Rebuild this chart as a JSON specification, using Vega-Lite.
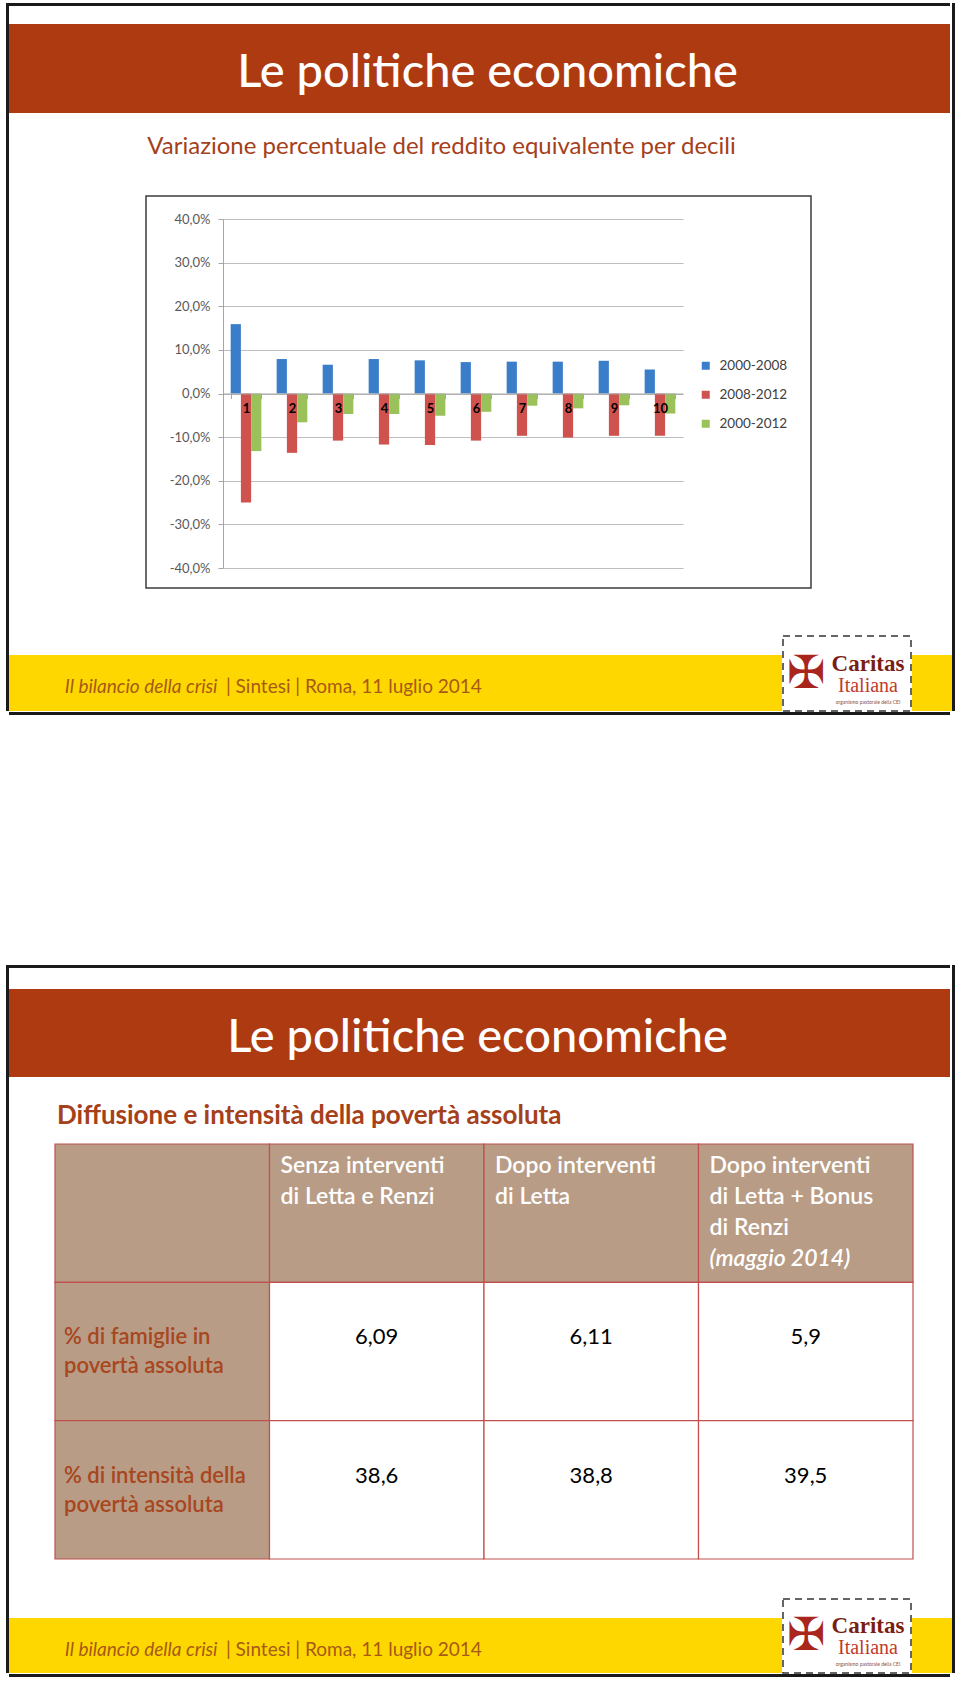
{
  "$schema": "https://vega.github.io/schema/vega-lite/v6.json",
  "background": "#ffffff",
  "padding": {"left": 6, "top": 3, "right": 0, "bottom": 0},
  "data": {"values": [{}]},
  "spacing": 0,
  "resolve": {"scale": {"color": "independent"}, "legend": {"color": "independent"}},
  "vconcat": [
    {
      "spacing": 0,
      "resolve": {"scale": {"color": "independent"}, "legend": {"color": "independent"}},
      "hconcat": [
        {"width": 3, "height": 708, "view": {"fill": "#1a1a1a"}, "mark": {"type": "text", "fontSize": 0}, "encoding": {"text": {"value": ""}}},
        {
          "spacing": 0,
          "resolve": {"scale": {"color": "independent"}, "legend": {"color": "independent"}},
          "vconcat": [
            {"width": 941, "height": 3, "view": {"fill": "#1a1a1a"}, "mark": {"type": "text", "fontSize": 0}, "encoding": {"text": {"value": ""}}},
            {"width": 941, "height": 18, "mark": {"type": "text", "fontSize": 0}, "encoding": {"text": {"value": ""}}},
            {"width": 941, "height": 89, "view": {"fill": "#AE3A12"}, "mark": {"type": "text", "text": "Le politiche economiche", "fontSize": 47, "fontWeight": 500, "color": "#ffffff", "dx": 8, "dy": 4}},
            {
              "spacing": 0,
              "hconcat": [
                {"width": 138, "height": 82, "mark": {"type": "text", "fontSize": 0}, "encoding": {"text": {"value": ""}}},
                {"width": 587, "height": 82, "mark": {"type": "text", "text": "Variazione percentuale del reddito equivalente per decili", "fontSize": 24, "color": "#A5401A", "dy": -7}},
                {"width": 216, "height": 82, "mark": {"type": "text", "fontSize": 0}, "encoding": {"text": {"value": ""}}}
              ]
            },
            {
              "spacing": 0,
              "resolve": {"scale": {"color": "independent"}, "legend": {"color": "independent"}},
              "hconcat": [
                {"width": 136, "height": 392, "mark": {"type": "text", "fontSize": 0}, "encoding": {"text": {"value": ""}}},
                {
                  "width": 665,
                  "height": 392,
                  "view": {"fill": "#ffffff", "stroke": "#3c3c3c", "strokeWidth": 1.5},
                  "data": {"values": [
                    {"decile": "1", "periodo": "2000-2008", "variazione": 0.159},
                    {"decile": "1", "periodo": "2008-2012", "variazione": -0.25},
                    {"decile": "1", "periodo": "2000-2012", "variazione": -0.132},
                    {"decile": "2", "periodo": "2000-2008", "variazione": 0.079},
                    {"decile": "2", "periodo": "2008-2012", "variazione": -0.136},
                    {"decile": "2", "periodo": "2000-2012", "variazione": -0.066},
                    {"decile": "3", "periodo": "2000-2008", "variazione": 0.066},
                    {"decile": "3", "periodo": "2008-2012", "variazione": -0.108},
                    {"decile": "3", "periodo": "2000-2012", "variazione": -0.047},
                    {"decile": "4", "periodo": "2000-2008", "variazione": 0.079},
                    {"decile": "4", "periodo": "2008-2012", "variazione": -0.117},
                    {"decile": "4", "periodo": "2000-2012", "variazione": -0.047},
                    {"decile": "5", "periodo": "2000-2008", "variazione": 0.076},
                    {"decile": "5", "periodo": "2008-2012", "variazione": -0.118},
                    {"decile": "5", "periodo": "2000-2012", "variazione": -0.051},
                    {"decile": "6", "periodo": "2000-2008", "variazione": 0.072},
                    {"decile": "6", "periodo": "2008-2012", "variazione": -0.108},
                    {"decile": "6", "periodo": "2000-2012", "variazione": -0.042},
                    {"decile": "7", "periodo": "2000-2008", "variazione": 0.073},
                    {"decile": "7", "periodo": "2008-2012", "variazione": -0.097},
                    {"decile": "7", "periodo": "2000-2012", "variazione": -0.028},
                    {"decile": "8", "periodo": "2000-2008", "variazione": 0.073},
                    {"decile": "8", "periodo": "2008-2012", "variazione": -0.101},
                    {"decile": "8", "periodo": "2000-2012", "variazione": -0.034},
                    {"decile": "9", "periodo": "2000-2008", "variazione": 0.075},
                    {"decile": "9", "periodo": "2008-2012", "variazione": -0.097},
                    {"decile": "9", "periodo": "2000-2012", "variazione": -0.027},
                    {"decile": "10", "periodo": "2000-2008", "variazione": 0.055},
                    {"decile": "10", "periodo": "2008-2012", "variazione": -0.097},
                    {"decile": "10", "periodo": "2000-2012", "variazione": -0.046}
                  ]},
                  "mark": {"type": "bar"},
                  "encoding": {
                    "x": {
                      "field": "decile", "type": "ordinal",
                      "sort": ["1", "2", "3", "4", "5", "6", "7", "8", "9", "10"],
                      "scale": {"range": [77, 537], "paddingInner": 0.333, "paddingOuter": 0.1667},
                      "axis": {"title": null, "orient": "bottom", "offset": -194.5, "zindex": 1, "labelAngle": 0, "labelFontWeight": "bold", "labelColor": "#000000", "labelFontSize": 13, "labelPadding": 4, "tickBand": "extent", "tickSize": 5, "tickColor": "#A6A6A6", "domainColor": "#A6A6A6", "grid": false}
                    },
                    "xOffset": {"field": "periodo", "type": "nominal", "sort": ["2000-2008", "2008-2012", "2000-2012"], "scale": {"paddingInner": 0, "paddingOuter": 0}},
                    "y": {
                      "field": "variazione", "type": "quantitative",
                      "scale": {"domain": [-0.4, 0.4], "range": [372, 23], "nice": false, "zero": false},
                      "axis": {"title": null, "offset": -77, "zindex": 0, "values": [-0.4, -0.3, -0.2, -0.1, 0, 0.1, 0.2, 0.3, 0.4], "format": ".1%", "labelFontSize": 13, "labelColor": "#595959", "labelPadding": 8, "tickSize": 5, "tickColor": "#A6A6A6", "domainColor": "#A6A6A6", "gridColor": "#BDBDBD", "grid": true}
                    },
                    "color": {
                      "field": "periodo", "type": "nominal",
                      "sort": ["2000-2008", "2008-2012", "2000-2012"],
                      "scale": {"range": ["#3A7DC8", "#CF524E", "#9BC25A"]},
                      "legend": {"title": null, "orient": "none", "legendX": 553, "legendY": 163, "padding": 0, "symbolType": "square", "symbolSize": 64, "symbolStrokeWidth": 0, "labelFontSize": 13.5, "labelColor": "#404040", "rowPadding": 14, "labelOffset": 7}
                    }
                  }
                },
                {"width": 140, "height": 392, "mark": {"type": "text", "fontSize": 0}, "encoding": {"text": {"value": ""}}}
              ]
            },
            {"width": 941, "height": 46, "mark": {"type": "text", "fontSize": 0}, "encoding": {"text": {"value": ""}}},
            {
              "spacing": 0,
              "hconcat": [
                {
                  "spacing": 0,
                  "vconcat": [
                    {"width": 773, "height": 19, "mark": {"type": "text", "fontSize": 0}, "encoding": {"text": {"value": ""}}},
                    {
                      "spacing": 0,
                      "hconcat": [
                        {"width": 213, "height": 56, "view": {"fill": "#FED700"}, "mark": {"type": "text", "text": "Il bilancio della crisi", "fontSize": 19, "fontStyle": "italic", "color": "#A65A17", "align": "right", "dx": 102, "dy": 4}},
                        {"width": 560, "height": 56, "view": {"fill": "#FED700"}, "mark": {"type": "text", "text": "| Sintesi | Roma, 11 luglio 2014", "fontSize": 19, "color": "#A65A17", "align": "left", "dx": -276, "dy": 4}}
                      ]
                    }
                  ]
                },
                {
                  "width": 128, "height": 75,
                  "view": {"fill": "#ffffff", "stroke": "#333333", "strokeDash": [7, 5], "strokeWidth": 1.5},
                  "layer": [
                    {"mark": {"type": "text", "text": "✠", "font": "DejaVu Sans", "fontSize": 46, "color": "#A8261C", "dx": -41, "dy": 0}},
                    {"mark": {"type": "text", "text": "Caritas", "font": "Liberation Serif", "fontWeight": "bold", "fontSize": 23, "color": "#7A1E14", "dx": 21, "dy": -10}},
                    {"mark": {"type": "text", "text": "Italiana", "font": "Liberation Serif", "fontSize": 20, "color": "#C23A2A", "dx": 21, "dy": 12}},
                    {"mark": {"type": "text", "text": "organismo pastorale della CEI", "fontSize": 5, "color": "#8a5040", "dx": 21, "dy": 28}}
                  ]
                },
                {
                  "spacing": 0,
                  "vconcat": [
                    {"width": 40, "height": 19, "mark": {"type": "text", "fontSize": 0}, "encoding": {"text": {"value": ""}}},
                    {"width": 40, "height": 56, "view": {"fill": "#FED700"}, "mark": {"type": "text", "fontSize": 0}, "encoding": {"text": {"value": ""}}}
                  ]
                }
              ]
            },
            {"width": 941, "height": 3, "view": {"fill": "#1a1a1a"}, "mark": {"type": "text", "fontSize": 0}, "encoding": {"text": {"value": ""}}}
          ]
        },
        {"width": 3, "height": 708, "view": {"fill": "#1a1a1a"}, "mark": {"type": "text", "fontSize": 0}, "encoding": {"text": {"value": ""}}}
      ]
    },
    {"width": 947, "height": 250, "mark": {"type": "text", "fontSize": 0}, "encoding": {"text": {"value": ""}}},
    {
      "spacing": 0,
      "hconcat": [
        {"width": 3, "height": 708, "view": {"fill": "#1a1a1a"}, "mark": {"type": "text", "fontSize": 0}, "encoding": {"text": {"value": ""}}},
        {
          "spacing": 0,
          "vconcat": [
            {"width": 941, "height": 3, "view": {"fill": "#1a1a1a"}, "mark": {"type": "text", "fontSize": 0}, "encoding": {"text": {"value": ""}}},
            {"width": 941, "height": 21, "mark": {"type": "text", "fontSize": 0}, "encoding": {"text": {"value": ""}}},
            {"width": 941, "height": 88, "view": {"fill": "#AE3A12"}, "mark": {"type": "text", "text": "Le politiche economiche", "fontSize": 47, "fontWeight": 500, "color": "#ffffff", "dx": -2, "dy": 5}},
            {
              "spacing": 0,
              "hconcat": [
                {"width": 47, "height": 66, "mark": {"type": "text", "fontSize": 0}, "encoding": {"text": {"value": ""}}},
                {"width": 512, "height": 66, "mark": {"type": "text", "text": "Diffusione e intensità della povertà assoluta", "fontSize": 26, "fontWeight": "bold", "color": "#A5401A", "align": "left", "dx": -255, "dy": 6}},
                {"width": 382, "height": 66, "mark": {"type": "text", "fontSize": 0}, "encoding": {"text": {"value": ""}}}
              ]
            },
            {
              "spacing": 0,
              "hconcat": [
                {"width": 45, "height": 415, "mark": {"type": "text", "fontSize": 0}, "encoding": {"text": {"value": ""}}},
                {
                  "width": 858,
                  "height": 415,
                  "view": {"fill": "#ffffff"},
                  "data": {"values": [
                    {"riga": "Intestazione", "colonna": "Voce", "tipo": "intestazione", "testo": ""},
                    {"riga": "Intestazione", "colonna": "Senza interventi", "tipo": "intestazione", "testo": "Senza interventi\ndi Letta e Renzi"},
                    {"riga": "Intestazione", "colonna": "Dopo Letta", "tipo": "intestazione", "testo": "Dopo interventi\ndi Letta"},
                    {"riga": "Intestazione", "colonna": "Dopo Letta + Bonus", "tipo": "intestazione", "testo": "Dopo interventi\ndi Letta + Bonus\ndi Renzi", "nota": "(maggio 2014)"},
                    {"riga": "Famiglie", "colonna": "Voce", "tipo": "etichetta", "testo": "% di famiglie in\npovertà assoluta"},
                    {"riga": "Famiglie", "colonna": "Senza interventi", "tipo": "valore", "valore": 6.09},
                    {"riga": "Famiglie", "colonna": "Dopo Letta", "tipo": "valore", "valore": 6.11},
                    {"riga": "Famiglie", "colonna": "Dopo Letta + Bonus", "tipo": "valore", "valore": 5.9},
                    {"riga": "Intensità", "colonna": "Voce", "tipo": "etichetta", "testo": "% di intensità della\npovertà assoluta"},
                    {"riga": "Intensità", "colonna": "Senza interventi", "tipo": "valore", "valore": 38.6},
                    {"riga": "Intensità", "colonna": "Dopo Letta", "tipo": "valore", "valore": 38.8},
                    {"riga": "Intensità", "colonna": "Dopo Letta + Bonus", "tipo": "valore", "valore": 39.5}
                  ]},
                  "layer": [
                    {
                      "mark": {"type": "rect", "stroke": "#C0504D", "strokeWidth": 1.2},
                      "encoding": {
                        "x": {"field": "colonna", "type": "nominal", "sort": ["Voce", "Senza interventi", "Dopo Letta", "Dopo Letta + Bonus"], "axis": null, "scale": {"paddingInner": 0, "paddingOuter": 0}},
                        "y": {"field": "riga", "type": "nominal", "sort": ["Intestazione", "Famiglie", "Intensità"], "axis": null, "scale": {"paddingInner": 0, "paddingOuter": 0}},
                        "fill": {"field": "tipo", "type": "nominal", "scale": {"domain": ["intestazione", "etichetta", "valore"], "range": ["#B89C86", "#B89C86", "#FFFFFF"]}, "legend": null}
                      }
                    },
                    {
                      "transform": [{"filter": "datum.tipo === 'intestazione'"}],
                      "mark": {"type": "text", "align": "left", "baseline": "top", "dx": 11, "dy": 11, "lineBreak": "\n", "lineHeight": 31, "fontSize": 23, "fontWeight": 600, "color": "#ffffff"},
                      "encoding": {
                        "x": {"field": "colonna", "type": "nominal", "sort": ["Voce", "Senza interventi", "Dopo Letta", "Dopo Letta + Bonus"], "axis": null, "bandPosition": 0},
                        "y": {"field": "riga", "type": "nominal", "sort": ["Intestazione", "Famiglie", "Intensità"], "axis": null, "bandPosition": 0},
                        "text": {"field": "testo"}
                      }
                    },
                    {
                      "transform": [{"filter": "isValid(datum.nota)"}],
                      "mark": {"type": "text", "align": "left", "baseline": "top", "dx": 11, "dy": 104, "fontSize": 23, "fontWeight": 600, "fontStyle": "italic", "color": "#ffffff"},
                      "encoding": {
                        "x": {"field": "colonna", "type": "nominal", "sort": ["Voce", "Senza interventi", "Dopo Letta", "Dopo Letta + Bonus"], "axis": null, "bandPosition": 0},
                        "y": {"field": "riga", "type": "nominal", "sort": ["Intestazione", "Famiglie", "Intensità"], "axis": null, "bandPosition": 0},
                        "text": {"field": "nota"}
                      }
                    },
                    {
                      "transform": [{"filter": "datum.tipo === 'etichetta'"}],
                      "mark": {"type": "text", "align": "left", "baseline": "top", "dx": 9, "dy": 45, "lineBreak": "\n", "lineHeight": 29, "fontSize": 22, "fontWeight": 600, "color": "#A8461E"},
                      "encoding": {
                        "x": {"field": "colonna", "type": "nominal", "sort": ["Voce", "Senza interventi", "Dopo Letta", "Dopo Letta + Bonus"], "axis": null, "bandPosition": 0},
                        "y": {"field": "riga", "type": "nominal", "sort": ["Intestazione", "Famiglie", "Intensità"], "axis": null, "bandPosition": 0},
                        "text": {"field": "testo"}
                      }
                    },
                    {
                      "transform": [{"filter": "datum.tipo === 'valore'"}],
                      "mark": {"type": "text", "align": "center", "baseline": "top", "dy": 45, "fontSize": 22, "color": "#000000"},
                      "encoding": {
                        "x": {"field": "colonna", "type": "nominal", "sort": ["Voce", "Senza interventi", "Dopo Letta", "Dopo Letta + Bonus"], "axis": null, "bandPosition": 0.5},
                        "y": {"field": "riga", "type": "nominal", "sort": ["Intestazione", "Famiglie", "Intensità"], "axis": null, "bandPosition": 0},
                        "text": {"field": "valore", "type": "quantitative", "format": ".2~f"}
                      }
                    }
                  ]
                },
                {"width": 38, "height": 415, "mark": {"type": "text", "fontSize": 0}, "encoding": {"text": {"value": ""}}}
              ]
            },
            {"width": 941, "height": 38, "mark": {"type": "text", "fontSize": 0}, "encoding": {"text": {"value": ""}}},
            {
              "spacing": 0,
              "hconcat": [
                {
                  "spacing": 0,
                  "vconcat": [
                    {"width": 773, "height": 19, "mark": {"type": "text", "fontSize": 0}, "encoding": {"text": {"value": ""}}},
                    {
                      "spacing": 0,
                      "hconcat": [
                        {"width": 213, "height": 55, "view": {"fill": "#FED700"}, "mark": {"type": "text", "text": "Il bilancio della crisi", "fontSize": 19, "fontStyle": "italic", "color": "#A65A17", "align": "right", "dx": 102, "dy": 4}},
                        {"width": 560, "height": 55, "view": {"fill": "#FED700"}, "mark": {"type": "text", "text": "| Sintesi | Roma, 11 luglio 2014", "fontSize": 19, "color": "#A65A17", "align": "left", "dx": -276, "dy": 4}}
                      ]
                    }
                  ]
                },
                {
                  "width": 128, "height": 74,
                  "view": {"fill": "#ffffff", "stroke": "#333333", "strokeDash": [7, 5], "strokeWidth": 1.5},
                  "layer": [
                    {"mark": {"type": "text", "text": "✠", "font": "DejaVu Sans", "fontSize": 46, "color": "#A8261C", "dx": -41, "dy": 0}},
                    {"mark": {"type": "text", "text": "Caritas", "font": "Liberation Serif", "fontWeight": "bold", "fontSize": 23, "color": "#7A1E14", "dx": 21, "dy": -10}},
                    {"mark": {"type": "text", "text": "Italiana", "font": "Liberation Serif", "fontSize": 20, "color": "#C23A2A", "dx": 21, "dy": 12}},
                    {"mark": {"type": "text", "text": "organismo pastorale della CEI", "fontSize": 5, "color": "#8a5040", "dx": 21, "dy": 28}}
                  ]
                },
                {
                  "spacing": 0,
                  "vconcat": [
                    {"width": 40, "height": 19, "mark": {"type": "text", "fontSize": 0}, "encoding": {"text": {"value": ""}}},
                    {"width": 40, "height": 55, "view": {"fill": "#FED700"}, "mark": {"type": "text", "fontSize": 0}, "encoding": {"text": {"value": ""}}}
                  ]
                }
              ]
            },
            {"width": 941, "height": 3, "view": {"fill": "#1a1a1a"}, "mark": {"type": "text", "fontSize": 0}, "encoding": {"text": {"value": ""}}}
          ]
        },
        {"width": 3, "height": 708, "view": {"fill": "#1a1a1a"}, "mark": {"type": "text", "fontSize": 0}, "encoding": {"text": {"value": ""}}}
      ]
    }
  ],
  "config": {
    "font": "Lato",
    "view": {"stroke": null},
    "concat": {"spacing": 0},
    "locale": {"number": {"decimal": ",", "thousands": ".", "grouping": [3], "currency": ["", " €"], "minus": "-"}}
  }
}
